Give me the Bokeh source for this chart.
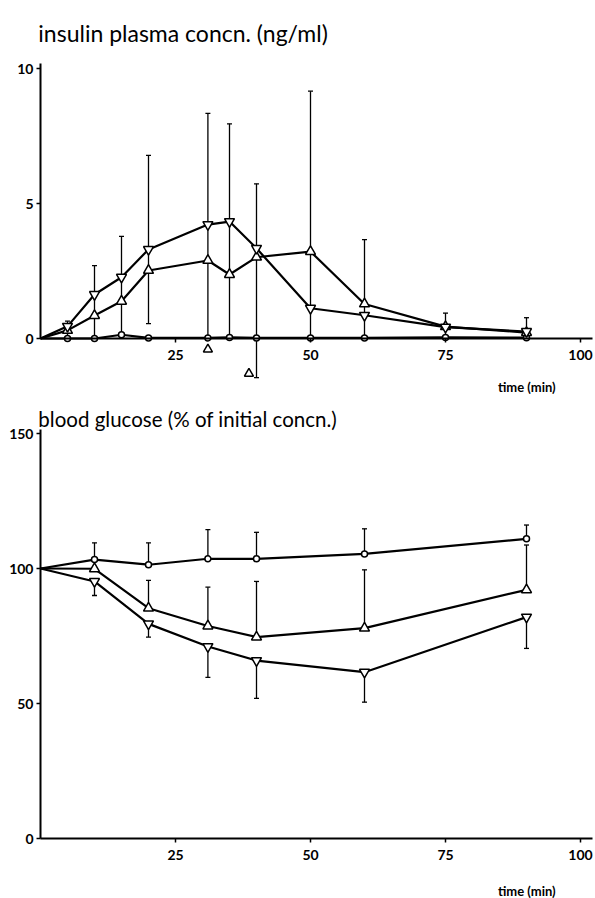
from bokeh.plotting import figure
from bokeh.models import LinearAxis, FixedTicker, Label, Range1d
from bokeh.layouts import column
from bokeh.embed import file_html
from bokeh.resources import INLINE

# ---------------- data: insulin plasma concentration (ng/ml) ----------------
ins_time = [0, 5, 10, 15, 20, 31, 35, 40, 50, 60, 75, 90]
ins_down_tri = [0, 0.45, 1.63, 2.27, 3.30, 4.22, 4.33, 3.34, 1.12, 0.86, 0.42, 0.26]
ins_up_tri = [0, 0.30, 0.85, 1.38, 2.52, 2.89, 2.37, 3.01, 3.22, 1.28, 0.44, 0.22]
ins_circle = [0, 0.0, 0.0, 0.14, 0.02, 0.02, 0.04, 0.02, 0.02, 0.02, 0.04, 0.03]
ins_bar_time = [5, 10, 15, 20, 31, 35, 40, 50, 60, 75, 90]
ins_bar_top = [0.64, 2.70, 3.78, 6.78, 8.34, 7.95, 5.73, 9.16, 3.66, 0.94, 0.77]
ins_bar_bottom = [0, 0, 0, 0.55, 0, 0, -1.45, 0, 0, 0.05, 0]
ins_lowcap_time = [20, 40]
ins_lowcap_value = [0.55, -1.45]
ins_offscale_time = [31, 38.6]
ins_offscale_value = [-0.40, -1.30]
ins_xticks = [25, 50, 75, 100]
ins_yticks = [0, 5, 10]

# ---------------- data: blood glucose (% of initial) ----------------
glu_time = [0, 10, 20, 31, 40, 60, 90]
glu_circle = [100, 103.3, 101.4, 103.6, 103.6, 105.4, 111.0]
glu_up_tri = [100, 99.9, 85.3, 78.7, 74.6, 77.9, 92.1]
glu_down_tri = [100, 95.2, 79.5, 71.1, 65.9, 61.6, 82.0]
glu_circle_sd_top = [109.5, 109.5, 114.4, 113.4, 114.7, 116.1]
glu_up_sd_top = [99.9, 95.6, 93.1, 95.2, 99.5, 108.7]
glu_down_sd_bottom = [90.0, 74.6, 59.7, 51.9, 50.5, 70.4]
glu_xticks = [25, 50, 75, 100]
glu_yticks = [0, 50, 100, 150]

FONT = "Lato"
LW = 2.2
BAR_W = 1.3
W = 595


def base_fig(h, xr, yr):
    p = figure(width=W, height=h, x_range=Range1d(*xr), y_range=Range1d(*yr),
               output_backend="svg", toolbar_location=None,
               x_axis_location=None, y_axis_location=None, min_border=0)
    p.min_border_left = 0
    p.min_border_right = 0
    p.min_border_top = 0
    p.min_border_bottom = 0
    p.outline_line_color = None
    p.grid.visible = False
    p.background_fill_color = "white"
    return p


def add_axes(p, xticks, yticks, xbound, ybound):
    xa = LinearAxis(fixed_location=0, ticker=FixedTicker(ticks=xticks), bounds=xbound)
    ya = LinearAxis(fixed_location=0, ticker=FixedTicker(ticks=yticks), bounds=ybound)
    for a in (xa, ya):
        a.axis_line_width = 2
        a.axis_line_color = "black"
        a.major_tick_line_width = 1.5
        a.major_tick_in = 0
        a.major_tick_out = 4
        a.minor_tick_line_color = None
        a.major_label_text_font = FONT
        a.major_label_text_font_size = "14px"
        a.major_label_text_font_style = "bold"
        a.major_label_text_color = "black"
    xa.major_label_standoff = 7
    ya.major_label_standoff = 3
    p.add_layout(xa, "below")
    p.add_layout(ya, "left")


def markers(p, x, y, kind, size):
    p.scatter(x, y, marker=kind, size=size, fill_color="white",
              line_color="black", line_width=1.5)


# page pixel -> data: x = (px - 40)/5.4
XR = (-40 / 5.4, (W - 40) / 5.4)

# ---------------- top: insulin ----------------
# y = (338 - py)/27, figure covers page y 0..394
p1 = base_fig(394, XR, ((338 - 394) / 27, 338 / 27))
add_axes(p1, ins_xticks, ins_yticks, (0, 102.2), (0, 10.2))

p1.segment(ins_bar_time, ins_bar_bottom, ins_bar_time, ins_bar_top,
           line_color="black", line_width=BAR_W)
p1.scatter(ins_bar_time, ins_bar_top, marker="dash", size=5, line_color="black", line_width=BAR_W)
p1.scatter(ins_lowcap_time, ins_lowcap_value, marker="dash", size=5, line_color="black", line_width=BAR_W)

p1.line(ins_time, ins_circle, line_color="black", line_width=LW)
p1.line(ins_time, ins_up_tri, line_color="black", line_width=LW)
p1.line(ins_time, ins_down_tri, line_color="black", line_width=LW)

markers(p1, ins_time[1:], ins_circle[1:], "circle", 6)
markers(p1, ins_time[1:], ins_up_tri[1:], "triangle", 10)
markers(p1, ins_time[1:], ins_down_tri[1:], "inverted_triangle", 10)
markers(p1, ins_offscale_time, ins_offscale_value, "triangle", 9)

p1.add_layout(Label(x=-0.4, y=(338 - 32) / 27, text="insulin plasma concn. (ng/ml)",
                    text_font=FONT, text_font_size="23px", text_color="black",
                    text_align="left", text_baseline="alphabetic"))
p1.add_layout(Label(x=95.4, y=(338 - 386) / 27, text="time (min)",
                    text_font=FONT, text_font_size="13px", text_font_style="bold",
                    text_color="black", text_align="right", text_baseline="alphabetic"))

# ---------------- bottom: blood glucose ----------------
# y = (838 - py)/2.7, figure covers page y 394..898
p2 = base_fig(504, XR, ((838 - 898) / 2.7, (838 - 394) / 2.7))
add_axes(p2, glu_xticks, glu_yticks, (0, 102.2), (0, 151.6))

t1 = glu_time[1:]
p2.segment(t1, glu_circle[1:], t1, glu_circle_sd_top, line_color="black", line_width=BAR_W)
p2.scatter(t1, glu_circle_sd_top, marker="dash", size=5, line_color="black", line_width=BAR_W)

up_t = [t for t, v, s in zip(t1, glu_up_tri[1:], glu_up_sd_top) if s > v]
up_v = [v for v, s in zip(glu_up_tri[1:], glu_up_sd_top) if s > v]
up_s = [s for v, s in zip(glu_up_tri[1:], glu_up_sd_top) if s > v]
p2.segment(up_t, up_v, up_t, up_s, line_color="black", line_width=BAR_W)
p2.scatter(up_t, up_s, marker="dash", size=5, line_color="black", line_width=BAR_W)

p2.segment(t1, glu_down_tri[1:], t1, glu_down_sd_bottom, line_color="black", line_width=BAR_W)
p2.scatter(t1, glu_down_sd_bottom, marker="dash", size=5, line_color="black", line_width=BAR_W)

p2.line(glu_time, glu_circle, line_color="black", line_width=LW)
p2.line(glu_time, glu_up_tri, line_color="black", line_width=LW)
p2.line(glu_time, glu_down_tri, line_color="black", line_width=LW)

markers(p2, t1, glu_circle[1:], "circle", 6)
markers(p2, t1, glu_up_tri[1:], "triangle", 10)
markers(p2, t1, glu_down_tri[1:], "inverted_triangle", 10)

p2.add_layout(Label(x=-0.4, y=(838 - 418) / 2.7, text="blood glucose (% of initial concn.)",
                    text_font=FONT, text_font_size="20.5px", text_color="black",
                    text_align="left", text_baseline="alphabetic"))
p2.add_layout(Label(x=95.4, y=(838 - 890) / 2.7, text="time (min)",
                    text_font=FONT, text_font_size="13px", text_font_style="bold",
                    text_color="black", text_align="right", text_baseline="alphabetic"))

layout = column(p1, p2, spacing=0)
open("out.html", "w").write(file_html(layout, INLINE))
